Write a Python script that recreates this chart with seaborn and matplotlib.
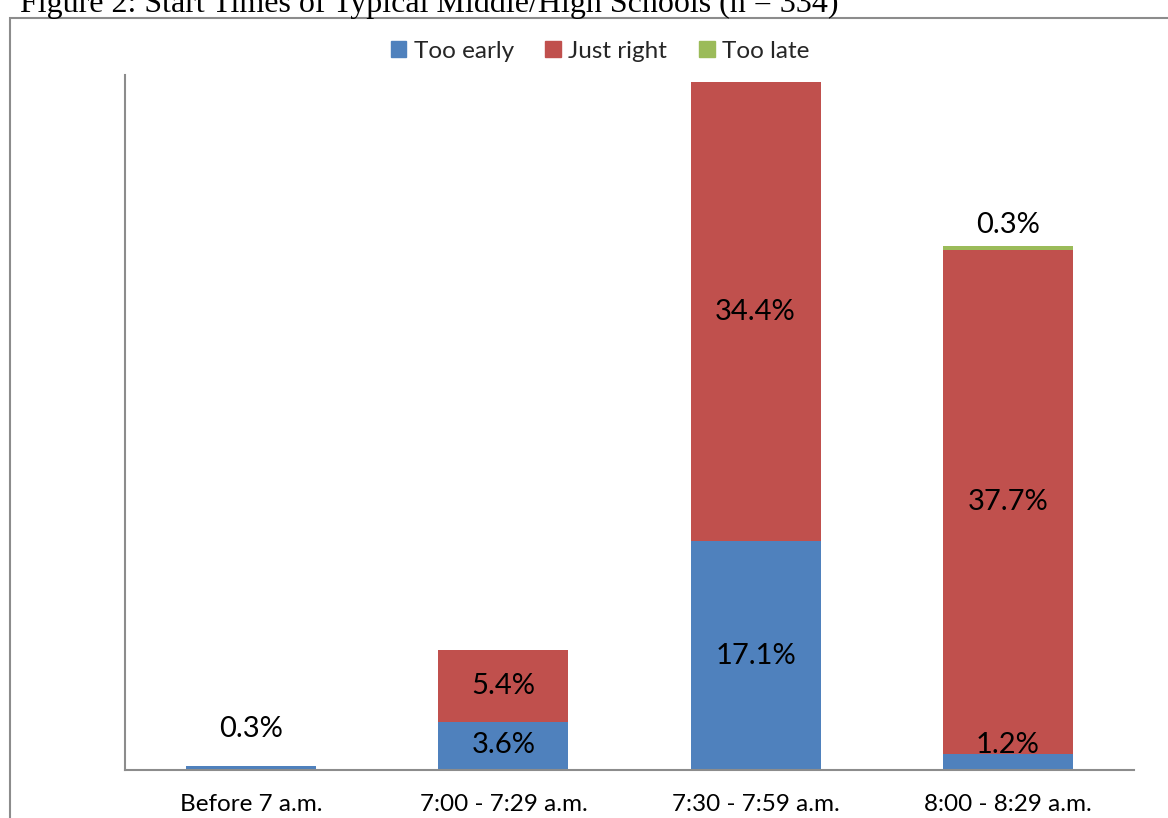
import matplotlib
matplotlib.use("Agg")
import matplotlib.pyplot as plt
import matplotlib.patches as mpatches
import numpy as np
import pandas as pd
import seaborn as sns

# Data (percent of respondents)
categories = ["Before 7 a.m.", "7:00 - 7:29 a.m.", "7:30 - 7:59 a.m.", "8:00 - 8:29 a.m."]
too_early = [0.3, 3.6, 17.1, 1.2]
just_right = [0.0, 5.4, 34.4, 37.7]
too_late = [0.0, 0.0, 0.0, 0.3]
series_names = ["Too early", "Just right", "Too late"]
colors = ["#4F81BD", "#C0504D", "#9BBB59"]
title = "Figure 2: Start Times of Typical Middle/High Schools (n = 334)"

sns.set_style("white")
plt.rcParams["font.family"] = ["Lato", "DejaVu Sans"]

df = pd.DataFrame({"cat": categories, "Too early": too_early,
                   "Just right": just_right, "Too late": too_late})
df_cum = df[series_names].cumsum(axis=1)
df_cum["cat"] = categories

fig = plt.figure(figsize=(11.68, 8.18), dpi=100)
ax = fig.add_axes([125 / 1168, 1 - 770 / 818, (1134 - 125) / 1168, (770 - 75) / 818])

# stacked bars: draw cumulative totals from the top layer down
for name, col in zip(reversed(series_names), reversed(colors)):
    sns.barplot(data=df_cum, x="cat", y=name, color=col, width=0.515,
                linewidth=0, saturation=1, ax=ax)

ax.set_ylim(0, 52.0)
ax.set_xlim(-0.5, len(categories) - 0.5)
ax.set_xlabel("")
ax.set_ylabel("")
ax.set_yticks([])
ax.tick_params(axis="x", length=0, labelsize=17.5, pad=17)
for lab in ax.get_xticklabels():
    lab.set_color("black")
for side in ["top", "right"]:
    ax.spines[side].set_visible(False)
for side in ["left", "bottom"]:
    ax.spines[side].set_color("#8C8C8C")
    ax.spines[side].set_linewidth(1.5)

# data labels
for i in range(len(categories)):
    bottom = 0.0
    for name in series_names:
        v = df.loc[i, name]
        if v > 0:
            txt = f"{v:.1f}%"
            if v < 1:
                # small segments get their label above the bar
                ax.text(i, max(bottom + v + 0.6, 2.1), txt, ha="center",
                        va="bottom", fontsize=21, color="black")
            else:
                ax.text(i, max(bottom + v / 2, 1.85), txt, ha="center",
                        va="center", fontsize=21, color="black")
        bottom += v

handles = [mpatches.Patch(color=c, label=n) for n, c in zip(series_names, colors)]
fig.legend(handles=handles, loc="center", bbox_to_anchor=(600 / 1168, 1 - 51 / 818),
           ncol=3, frameon=False, fontsize=17.5, handlelength=0.65, handleheight=0.65,
           handletextpad=0.3, columnspacing=1.3)

# outer chart border and the (cropped) document caption
fig.add_artist(mpatches.Rectangle((10 / 1168, -0.1), 1.2, 1 - 18 / 818 + 0.1,
                                  transform=fig.transFigure, fill=False,
                                  edgecolor="#8C8C8C", linewidth=1.5))
fig.text(20 / 1168, 1 - 12 / 818, title, family="Liberation Serif",
         fontsize=23, ha="left", va="baseline", color="black")

fig.savefig("out.png", dpi=100)
